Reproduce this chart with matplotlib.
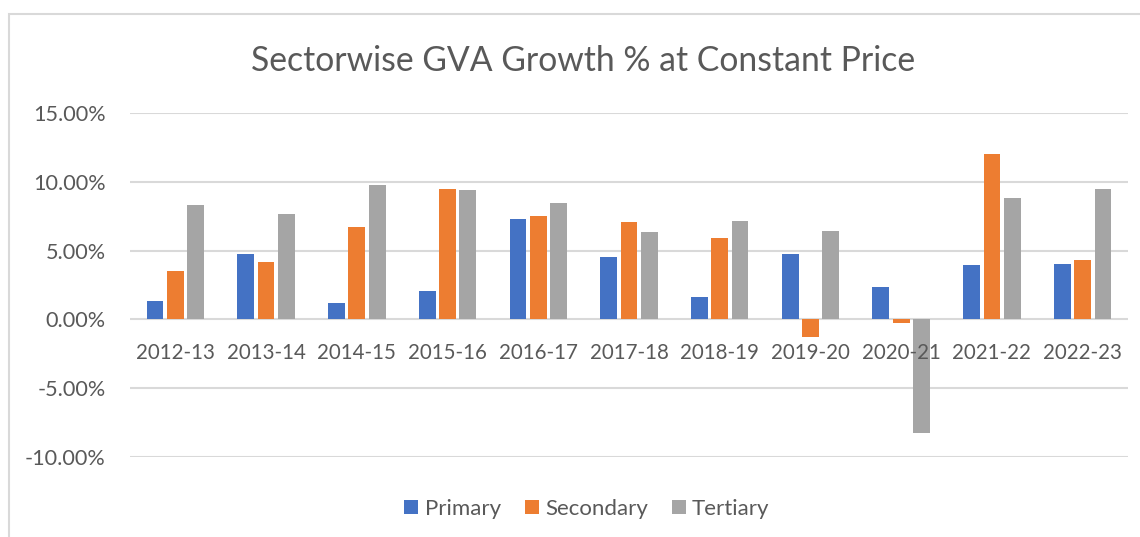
import numpy as np
import matplotlib
matplotlib.use("Agg")
import matplotlib.pyplot as plt
from matplotlib.patches import Rectangle
from matplotlib.ticker import FuncFormatter

years = ["2012-13", "2013-14", "2014-15", "2015-16", "2016-17", "2017-18",
         "2018-19", "2019-20", "2020-21", "2021-22", "2022-23"]
primary = [1.31, 4.74, 1.17, 2.07, 7.30, 4.53, 1.61, 4.79, 2.34, 3.92, 4.01]
secondary = [3.55, 4.16, 6.71, 9.51, 7.49, 7.08, 5.91, -1.29, -0.24, 12.02, 4.33]
tertiary = [8.32, 7.66, 9.78, 9.42, 8.44, 6.33, 7.15, 6.42, -8.27, 8.81, 9.47]
yticks = [-10, -5, 0, 5, 10, 15]

series = [("Primary", primary, "#4472C4"),
          ("Secondary", secondary, "#ED7D31"),
          ("Tertiary", tertiary, "#A5A5A5")]

TEXT = "#595959"
GRID = "#D9D9D9"
plt.rcParams["font.family"] = ["Lato", "DejaVu Sans"]

fig = plt.figure(figsize=(11.4, 5.37), dpi=100)
ax = fig.add_axes([130 / 1140, 1 - 456.7 / 537, 998 / 1140, (456.7 - 113.3) / 537])

# chart border (Excel chart area)
fig.patches.append(Rectangle((9 / 1140, -0.2), 1.2, 0.2 + (537 - 14) / 537,
                             transform=fig.transFigure, fill=False,
                             edgecolor=GRID, linewidth=1.5))

x = np.arange(len(years))
pitch = 0.224
for i, (name, vals, color) in enumerate(series):
    ax.bar(x + (i - 1) * pitch, vals, width=0.185, color=color, label=name,
           zorder=2)

# gridlines below bars, axis labels above them
for t in yticks:
    ax.axhline(t, color=GRID, linewidth=1.5, zorder=1)
ax.set_axisbelow(False)

ax.set_xlim(-0.5, len(years) - 0.5)
ax.set_ylim(-10, 15)
ax.set_yticks(yticks)
ax.yaxis.set_major_formatter(FuncFormatter(lambda v, p: f"{v:.2f}%"))

ax.set_xticks(x)
ax.set_xticklabels(years)
for s in ["top", "right", "left", "bottom"]:
    ax.spines[s].set_visible(False)
ax.spines["bottom"].set_position(("data", 0))
ax.tick_params(axis="x", length=0, pad=17, labelsize=14.8, labelcolor=TEXT)
ax.tick_params(axis="y", length=0, pad=17.5, labelsize=15.6, labelcolor=TEXT)

fig.text(583 / 1140, 1 - 61 / 537, "Sectorwise GVA Growth % at Constant Price",
         ha="center", va="center", fontsize=24.3, color=TEXT)

fig.legend(loc="center", bbox_to_anchor=(587 / 1140, 1 - 509 / 537), ncol=3,
           frameon=False, fontsize=16, labelcolor=TEXT, handlelength=0.63,
           handleheight=0.63, handletextpad=0.28, columnspacing=1.08)

fig.savefig("out.png", dpi=100)
